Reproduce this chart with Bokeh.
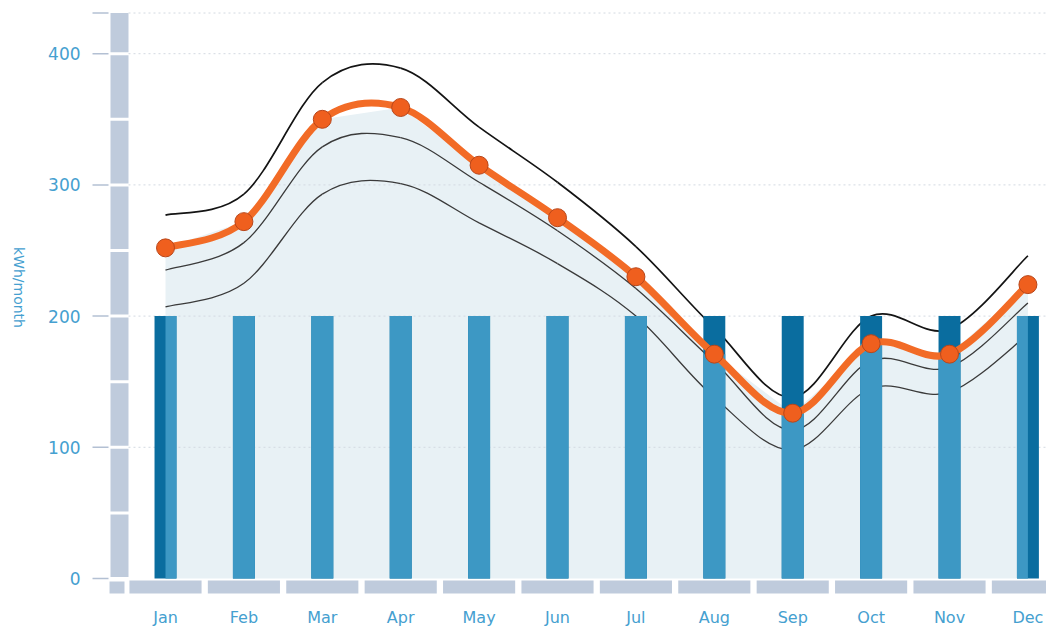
import math
from bokeh.plotting import figure
from bokeh.models import Range1d
from bokeh.core.properties import value
from bokeh.embed import file_html
from bokeh.resources import INLINE

# ---------------- data ----------------
months = ["Jan", "Feb", "Mar", "Apr", "May", "Jun", "Jul", "Aug", "Sep", "Oct", "Nov", "Dec"]
usage = [200, 200, 200, 200, 200, 200, 200, 200, 200, 200, 200, 200]
produced = [252, 272, 350, 359, 315, 275, 230, 171, 126, 179, 171, 224]
upper = [277, 293, 378, 389, 344, 302, 253, 191, 138, 200, 190, 246]
lower = [235, 256, 329, 336, 302, 265, 221, 165, 113, 166, 161, 210]
lowest = [207, 225, 293, 301, 271, 240, 200, 138, 98, 145, 142, 186]
y_ticks = [0, 100, 200, 300, 400]
y_tick_labels = ["0", "100", "200", "300", "400"]
y_top = 431
band_steps = [0, 50, 100, 150, 200, 250, 300, 350, 400, 431]
y_title = "kWh/month"

# ---------------- styles ----------------
FONT = value("DejaVu Sans")
TXT = "#45a0d0"
BAND = "#bfcbdc"
TICK = "#b3c0d3"
GRID = "#d3d9e1"
AREA = "#e8f1f5"
DARK = "#0a6d9f"
LIGHT = "#3d98c4"
ORANGE = "#f26b26"

W, H = 1046, 626
X0, X1 = -2.1046, 11.237
Y0, Y1 = -36.59, 440.55
p = figure(width=W, height=H, output_backend="svg", toolbar_location=None,
           x_axis_type=None, y_axis_type=None,
           min_border=0, min_border_left=0, min_border_right=0,
           min_border_top=0, min_border_bottom=0)
p.outline_line_color = None
p.background_fill_color = "white"
p.border_fill_color = "white"
p.x_range = Range1d(X0, X1)
p.y_range = Range1d(Y0, Y1)

n = len(months)
xs = list(range(n))

# ---------- axis bands ----------
gap = 1.15
yb_bottom, yb_top = [], []
for k in range(len(band_steps) - 1):
    yb_bottom.append(band_steps[k] + gap)
    yb_top.append(band_steps[k + 1] - (gap if k + 1 < len(band_steps) - 1 else 0))
p.quad(left=[-0.7015] * len(yb_bottom), right=[-0.472] * len(yb_bottom),
       bottom=yb_bottom, top=yb_top, fill_color=BAND, line_color=None)
p.quad(left=[-0.714], right=[-0.523], bottom=[-11.4], top=[-2.3],
       fill_color=BAND, line_color=None)
p.quad(left=[x - 0.46 for x in xs], right=[x + 0.46 for x in xs],
       bottom=[-11.4] * n, top=[-1.5] * n, fill_color=BAND, line_color=None)

# ---------- ticks ----------
tick_vals = y_ticks + [y_top]
p.segment(x0=[-0.931] * len(tick_vals), x1=[-0.727] * len(tick_vals),
          y0=tick_vals, y1=tick_vals, line_color=TICK, line_width=1.5)

# ---------- area under production ----------
p.varea(x=xs, y1=[0] * n, y2=produced, fill_color=AREA)

# ---------- grid ----------
grid_vals = [t for t in y_ticks if t > 0] + [y_top]
p.segment(x0=[-0.472] * len(grid_vals), x1=[X1] * len(grid_vals),
          y0=grid_vals, y1=grid_vals, line_color=GRID, line_width=1,
          line_dash="2 3")


# ---------- smooth curves ----------
def bez(ys):
    m = len(ys)
    d = dict(x0=[], y0=[], x1=[], y1=[], cx0=[], cy0=[], cx1=[], cy1=[])
    for i in range(m - 1):
        a = max(i - 1, 0)
        b = min(i + 2, m - 1)
        d["x0"].append(xs[i]); d["y0"].append(ys[i])
        d["x1"].append(xs[i + 1]); d["y1"].append(ys[i + 1])
        d["cx0"].append(xs[i] + (xs[i + 1] - xs[a]) / 6.0)
        d["cy0"].append(ys[i] + (ys[i + 1] - ys[a]) / 6.0)
        d["cx1"].append(xs[i + 1] - (xs[b] - xs[i]) / 6.0)
        d["cy1"].append(ys[i + 1] - (ys[b] - ys[i]) / 6.0)
    return d


p.bezier(**bez(lowest), line_color="#3a3a3a", line_width=1.3)
p.bezier(**bez(lower), line_color="#3a3a3a", line_width=1.3)
p.bezier(**bez(upper), line_color="#141414", line_width=1.7)

# ---------- bars ----------
hw = 0.14
p.quad(left=[x - hw for x in xs], right=[x + hw for x in xs],
       bottom=[0] * n, top=usage, fill_color=DARK, line_color=None)
p.quad(left=[max(x - hw, xs[0]) for x in xs], right=[min(x + hw, xs[-1]) for x in xs],
       bottom=[0] * n, top=[min(a, b) for a, b in zip(produced, usage)],
       fill_color=LIGHT, line_color=None)

# ---------- production line ----------
p.bezier(**bez(produced), line_color=ORANGE, line_width=7, line_cap="round")
p.scatter(x=xs, y=produced, size=18, marker="circle", fill_color="#ef5f1e",
          line_color="#b8461a", line_width=1)

# ---------- texts ----------
p.text(x=[-1.084] * len(y_ticks), y=y_ticks, text=y_tick_labels,
       text_align="right", text_baseline="middle", text_font=FONT,
       text_font_size="17px", text_color=TXT)
p.text(x=xs, y=[-29.6] * n, text=months, text_align="center",
       text_baseline="middle", text_font=FONT, text_font_size="16px",
       text_color=TXT)
p.text(x=[-1.875], y=[221.8], text=[y_title], angle=-math.pi / 2,
       text_align="center", text_baseline="middle", text_font=FONT,
       text_font_size="14px", text_color=TXT)

open("out.html", "w").write(file_html(p, INLINE))
